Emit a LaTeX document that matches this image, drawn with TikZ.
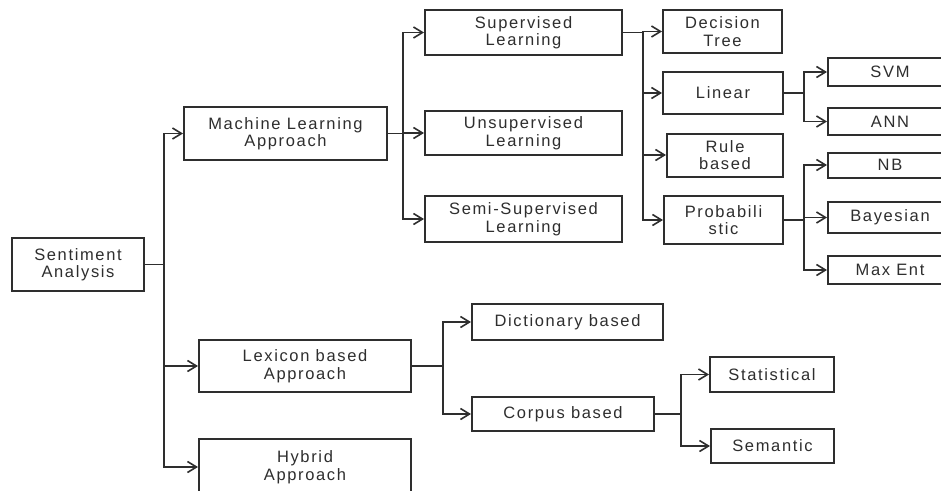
\documentclass[tikz,border=0pt]{standalone}
\usepackage{fontspec}
\setmainfont{Liberation Sans}[LetterSpace=10]
\usetikzlibrary{arrows.meta}
\definecolor{ink}{HTML}{2E2E2E}
\tikzset{
  box/.style={draw=ink, line width=2pt, inner sep=0pt, align=center, text=ink,
    font=\fontsize{16.5}{17.5}\selectfont},
  conn/.style={draw=ink, line width=1.8pt},
  arr/.style={conn, -{Straight Barb[length=9pt,width=11pt,line width=1.6pt]}},
}
\begin{document}
\begin{tikzpicture}[x=1pt,y=-1pt]
\useasboundingbox (0,0) rectangle (941,490);
\clip (0,0) rectangle (941,490);
\fill[white] (0,0) rectangle (941,490);
% level 0/1
\node[box, minimum width=132, minimum height=53] (sa) at (78,264.5) {Sentiment\\Analysis};
\node[box, minimum width=203, minimum height=53] (ml) at (285.5,133.5) {Machine Learning\\Approach};
\node[box, minimum width=212, minimum height=52] (lex) at (305,366) {Lexicon based\\Approach};
\node[box, minimum width=212, minimum height=56] (hyb) at (305,467) {Hybrid\\Approach};
% ML children
\node[box, minimum width=197, minimum height=45] (sup) at (523.5,32.5) {Supervised\\Learning};
\node[box, minimum width=197, minimum height=44] (uns) at (523.5,133) {Unsupervised\\Learning};
\node[box, minimum width=197, minimum height=46] (semi) at (523.5,219) {Semi-Supervised\\Learning};
% supervised children
\node[box, minimum width=119, minimum height=43] (dt) at (722.5,31.5) {Decision\\Tree};
\node[box, minimum width=120, minimum height=42] (lin) at (723,93) {Linear};
\node[box, minimum width=116, minimum height=43] (rule) at (725,155) {Rule\\based};
\node[box, minimum width=119, minimum height=48] (prob) at (723.5,220) {Probabili\\stic};
% leaves
\node[box, minimum width=124, minimum height=28] (svm) at (890,72) {SVM};
\node[box, minimum width=124, minimum height=27] (ann) at (890,121.5) {ANN};
\node[box, minimum width=124, minimum height=25] (nb) at (890,165) {NB};
\node[box, minimum width=124, minimum height=31] (bay) at (890,217.5) {Bayesian};
\node[box, minimum width=124, minimum height=28] (me) at (890,270) {Max Ent};
% lexicon children
\node[box, minimum width=191, minimum height=36] (dict) at (567.5,322) {Dictionary based};
\node[box, minimum width=182, minimum height=34] (corp) at (563,414) {Corpus based};
\node[box, minimum width=124, minimum height=35] (stat) at (772,374.5) {Statistical};
\node[box, minimum width=123, minimum height=34] (sem) at (772.5,446) {Semantic};
% junctions
\coordinate (j0) at (164,264.5);
\coordinate (j1) at (403,133.5);
\coordinate (j2) at (643,32.5);
\coordinate (j3) at (804,93);
\coordinate (j4) at (804,220);
\coordinate (j5) at (443,366);
\coordinate (j6) at (681,414);
% connectors
\draw[conn] (sa.east) -- (j0);
\draw[arr] (j0) |- (ml.west);
\draw[arr] (j0) |- (lex.west);
\draw[arr] (j0) |- (hyb.west);
\draw[conn] (ml.east) -- (j1);
\draw[arr] (j1) |- (sup.west);
\draw[arr] (j1) |- (uns.west);
\draw[arr] (j1) |- (semi.west);
\draw[conn] (sup.east) -- (j2);
\draw[arr] (j2) |- (dt.west);
\draw[arr] (j2) |- (lin.west);
\draw[arr] (j2) |- (rule.west);
\draw[arr] (j2) |- (prob.west);
\draw[conn] (lin.east) -- (j3);
\draw[arr] (j3) |- (svm.west);
\draw[arr] (j3) |- (ann.west);
\draw[conn] (prob.east) -- (j4);
\draw[arr] (j4) |- (nb.west);
\draw[arr] (j4) |- (bay.west);
\draw[arr] (j4) |- (me.west);
\draw[conn] (lex.east) -- (j5);
\draw[arr] (j5) |- (dict.west);
\draw[arr] (j5) |- (corp.west);
\draw[conn] (corp.east) -- (j6);
\draw[arr] (j6) |- (stat.west);
\draw[arr] (j6) |- (sem.west);
\end{tikzpicture}
\end{document}
